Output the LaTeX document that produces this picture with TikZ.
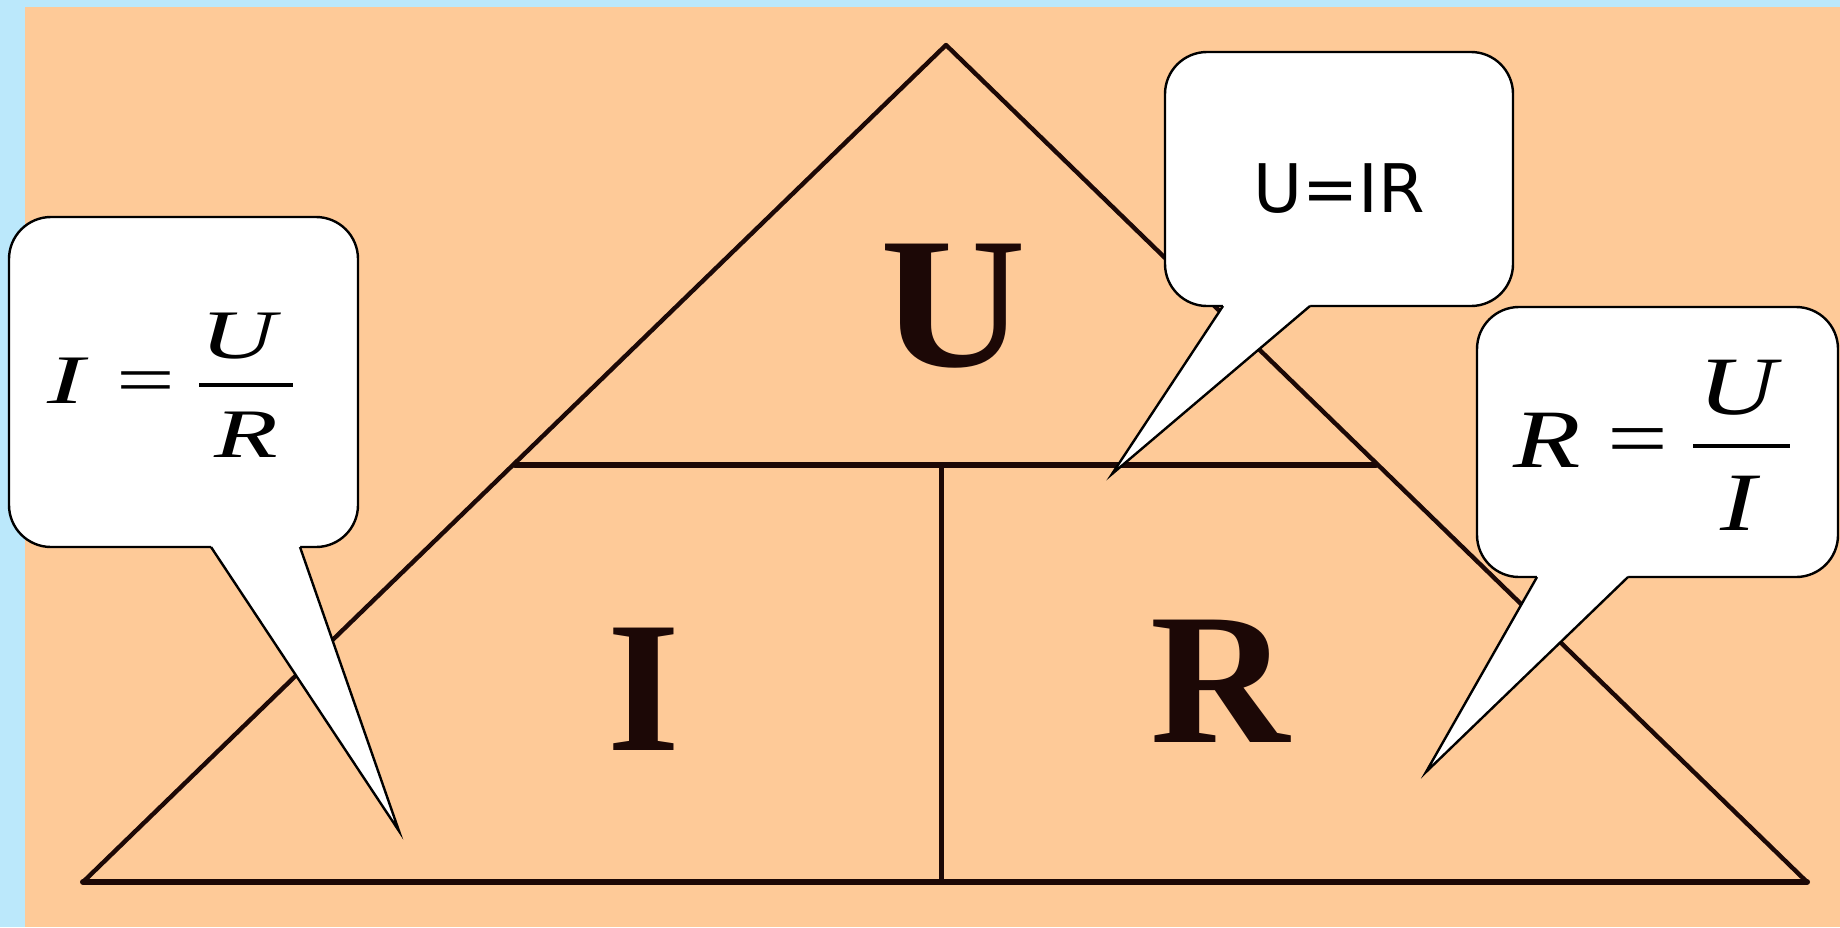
\documentclass[tikz,border=0pt]{standalone}
\usepackage{fontspec}
\usepackage{graphicx}
\setmainfont{Liberation Serif}
\newfontfamily\vfont{DejaVu Sans}
\definecolor{bgblue}{RGB}{187,232,251}
\definecolor{bgorange}{RGB}{254,202,152}
\definecolor{ink}{RGB}{28,8,6}
\begin{document}
\begin{tikzpicture}[x=0.5pt,y=-0.5pt,
  tri/.style={draw=ink, line cap=round, line join=round},
  bubble/.style={fill=white, draw=black, line width=1.2pt, rounded corners=21pt},
  tail/.style={draw=black, line width=1.2pt, line join=miter},
  big/.style={inner sep=0, anchor=base, text=ink, font=\fontsize{93.5}{100}\selectfont\bfseries},
  eqL/.style={inner sep=0, anchor=base, font=\fontsize{34.75}{40}\selectfont},
  eqR/.style={inner sep=0, anchor=base, font=\fontsize{41.5}{46}\selectfont},
  fracbar/.style={draw=black, line width=1.8pt},
  ]
\fill[bgblue] (0,0) rectangle (1840,927);
\fill[bgorange] (25,7) rectangle (1840,927);
\useasboundingbox (0,0) rectangle (1840,927);

% triangle
\coordinate (A) at (83,882);
\coordinate (B) at (1807,882);
\coordinate (C) at (946,45);
\coordinate (ML) at (515,465);
\coordinate (MR) at (1376,465);
\coordinate (VT) at (941,465);
\coordinate (VB) at (941,882);
\draw[tri, line width=2.2pt] (A) -- (C) -- (B);
\draw[tri, line width=3pt] (A) -- (B);
\draw[tri, line width=3pt] (ML) -- (MR);
\draw[tri, line width=2.5pt] (VT) -- (VB);

\node[big] (bigU) at (953,366) {\scalebox{1.08}[1]{U}};
\node[big] (bigI) at (644,750) {I};
\node[big] (bigR) at (1220,742) {\scalebox{1.03}[1]{R}};

% callout 1
\draw[bubble] (9,217) rectangle (358,547);
\coordinate (t1a) at (211,547);
\coordinate (t1b) at (300,547);
\coordinate (t1tip) at (399,831);
\fill[white] (t1a) -- (t1tip) -- (t1b) -- (300,542) -- (211,542) -- cycle;
\draw[tail] (t1a) -- (t1tip) -- (t1b);
\node[eqL] (i1) at (66,403) {\scalebox{1.6}[1]{\itshape I}};
\node[eqL] (eq1) at (146,403) {\scalebox{1.5}[1]{=}};
\coordinate (b1l) at (199,385);
\coordinate (b1r) at (293,385);
\draw[fracbar] (b1l) -- (b1r);
\node[eqL] (u1) at (238,358) {\scalebox{1.5}[1]{\itshape U}};
\node[eqL] (r1) at (246,457) {\scalebox{1.5}[1]{\itshape R}};

% callout 2
\draw[bubble] (1165,52) rectangle (1513,306);
\coordinate (t2a) at (1223,306);
\coordinate (t2b) at (1310,306);
\coordinate (t2tip) at (1112,474);
\fill[white] (t2a) -- (t2tip) -- (t2b) -- (1310,301) -- (1223,301) -- cycle;
\draw[tail] (t2a) -- (t2tip) -- (t2b);
\node[inner sep=0, anchor=base, font=\vfont\fontsize{33.5}{40}\selectfont] (uir) at (1339,212) {U=IR};

% callout 3
\draw[bubble] (1477,307) rectangle (1838,577);
\coordinate (t3a) at (1537,577);
\coordinate (t3b) at (1628,577);
\coordinate (t3tip) at (1426,772);
\fill[white] (t3a) -- (t3tip) -- (t3b) -- (1628,572) -- (1537,572) -- cycle;
\draw[tail] (t3a) -- (t3tip) -- (t3b);
\node[eqR] (r3) at (1547,467) {\scalebox{1.33}[1]{\itshape R}};
\node[eqR] (eq3) at (1638,466) {\scalebox{1.3}[1]{=}};
\coordinate (b3l) at (1693,446);
\coordinate (b3r) at (1790,446);
\draw[fracbar] (b3l) -- (b3r);
\node[eqR] (u3) at (1737,414) {\scalebox{1.3}[1]{\itshape U}};
\node[eqR] (i3) at (1738,530) {\scalebox{1.3}[1]{\itshape I}};
\end{tikzpicture}
\end{document}
